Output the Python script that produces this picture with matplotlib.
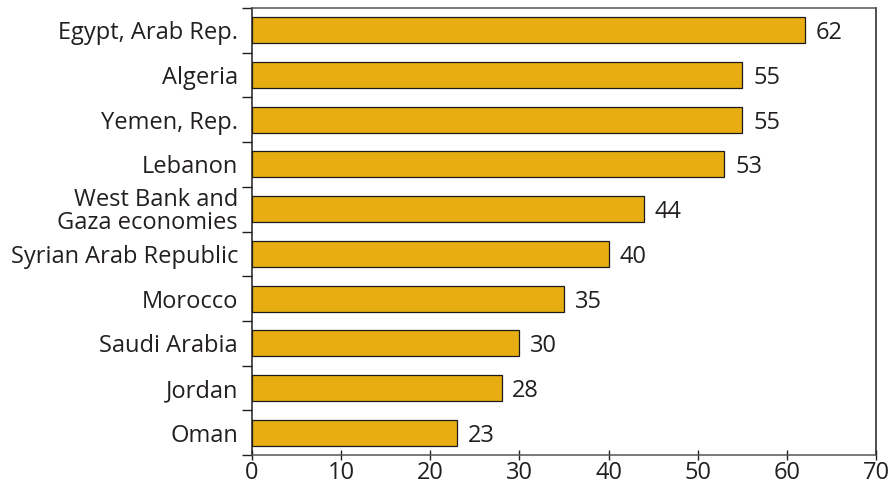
import matplotlib
matplotlib.use('Agg')
import matplotlib.pyplot as plt
import numpy as np

plt.rcParams['font.family'] = ['Open Sans', 'DejaVu Sans']

countries = ['Egypt, Arab Rep.', 'Algeria', 'Yemen, Rep.', 'Lebanon',
             'West Bank and\nGaza economies', 'Syrian Arab Republic',
             'Morocco', 'Saudi Arabia', 'Jordan', 'Oman']
values = [62, 55, 55, 53, 44, 40, 35, 30, 28, 23]

fig = plt.figure(figsize=(8.91, 4.91), dpi=100)
ax = fig.add_axes([0.2828, 0.0733, 0.7004, 0.9104])

y = np.arange(len(countries))
ax.barh(y, values, height=0.58, color='#E7AD13', edgecolor='#1a1a1a', linewidth=0.9)

for yi, v in zip(y, values):
    ax.text(v + 1.2, yi, str(v), va='center_baseline', ha='left', fontsize=17, color='#231f20')

ax.set_xlim(0, 70)
ax.set_ylim(len(countries) - 0.5, -0.5)
ax.set_xticks(np.arange(0, 71, 10))
ax.tick_params(axis='x', labelsize=17, length=7, width=1, direction='inout', colors='#231f20', pad=1)

ax.set_yticks(y)
ax.set_yticklabels(countries, fontsize=17, color='#231f20', linespacing=0.95)
ax.tick_params(axis='y', which='major', length=0, pad=10)
ax.set_yticks(np.arange(-0.5, len(countries), 1), minor=True)
ax.tick_params(axis='y', which='minor', length=7, width=1, color='#231f20')

for s in ['left', 'right']:
    ax.spines[s].set_color('#231f20')
    ax.spines[s].set_linewidth(1.1)
for s in ['top', 'bottom']:
    ax.spines[s].set_color('#555555')
    ax.spines[s].set_linewidth(1.1)

fig.savefig('out.png', dpi=100)
